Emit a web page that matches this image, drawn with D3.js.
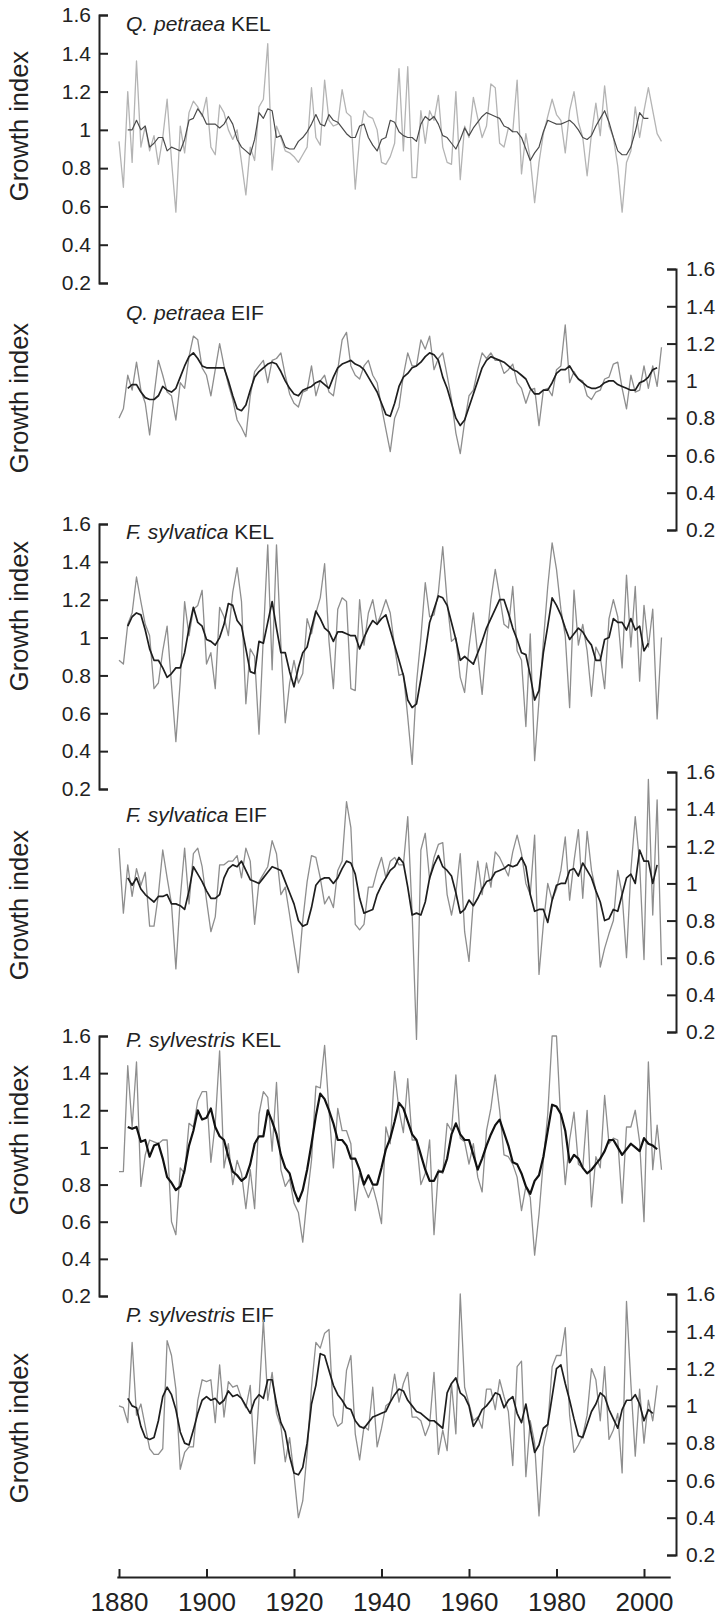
<!DOCTYPE html>
<html>
<head>
<meta charset="utf-8">
<script src="https://cdn.jsdelivr.net/npm/d3@7"></script>
<style>
  body { margin: 0; background: #fff; }
  svg { display: block; font-family: "Liberation Sans", Arial, sans-serif; }
</style>
</head>
<body>
<div id="chart"></div>
<script>
// Ring-width growth index, yearly values (raw) and smoothed curve
const rawStart = 1880;
const smoothStart = 1882;

const yTicks = [0.2, 0.4, 0.6, 0.8, 1, 1.2, 1.4, 1.6];
const xTicks = [1880, 1900, 1920, 1940, 1960, 1980, 2000];

const species = ["Q. petraea", "Q. petraea", "F. sylvatica", "F. sylvatica", "P. sylvestris", "P. sylvestris"];
const sites = ["KEL", "EIF", "KEL", "EIF", "KEL", "EIF"];

const qpKelRaw = [
  0.94, 0.70, 1.20, 0.83, 1.36, 0.91, 1.02, 0.89, 0.97, 0.82,
  0.96, 1.16, 0.84, 0.57, 1.02, 0.88, 1.09, 1.15, 1.12, 1.07,
  1.17, 0.91, 0.87, 1.13, 1.09, 1.00, 0.95, 1.00, 0.83, 0.66,
  0.91, 0.84, 1.12, 1.16, 1.45, 0.79, 1.02, 0.96, 0.89, 0.88,
  0.86, 0.83, 0.87, 0.91, 1.22, 0.96, 0.92, 1.26, 1.05, 1.02,
  1.03, 1.21, 1.09, 1.07, 0.69, 0.96, 1.10, 1.07, 1.06, 1.00,
  0.83, 0.82, 0.86, 0.93, 1.32, 0.89, 1.33, 0.75, 0.75, 1.10,
  0.93, 1.10, 1.05, 1.18, 0.91, 0.83, 0.82, 1.20, 0.74, 1.02,
  0.96, 1.17, 1.06, 0.96, 1.02, 1.24, 1.22, 0.93, 0.91, 1.01,
  0.99, 1.26, 0.77, 0.98, 0.85, 0.62, 0.83, 0.98, 1.07, 1.16,
  1.08, 1.05, 0.88, 1.10, 1.20, 1.04, 0.96, 0.76, 0.98, 1.14,
  0.97, 1.23, 1.02, 0.96, 0.81, 0.57, 0.83, 0.89, 1.12, 0.96,
  1.10, 1.22, 1.10, 0.98, 0.94
];
const qpKelSmooth = [
  1.00, 1.00, 1.05, 1.00, 1.02, 0.91, 0.93, 0.96, 0.96, 0.89,
  0.91, 0.90, 0.89, 0.95, 1.05, 1.06, 1.11, 1.08, 1.03, 1.03,
  1.03, 1.01, 1.03, 1.07, 1.03, 0.95, 0.91, 0.89, 0.87, 0.95,
  1.09, 1.06, 1.11, 1.10, 0.96, 0.97, 0.91, 0.90, 0.90, 0.94,
  0.96, 0.99, 1.03, 1.08, 1.03, 1.02, 1.08, 1.05, 1.04, 1.01,
  0.98, 0.96, 0.96, 1.02, 1.03, 0.96, 0.92, 0.89, 0.95, 0.96,
  1.05, 1.04, 0.99, 0.97, 0.96, 0.96, 0.94, 1.03, 1.07, 1.05,
  1.07, 1.03, 0.97, 0.96, 0.93, 0.90, 0.95, 1.01, 0.97, 1.01,
  1.04, 1.07, 1.09, 1.08, 1.07, 1.06, 1.02, 1.01, 0.99, 0.99,
  0.96, 0.90, 0.84, 0.88, 0.91, 0.99, 1.05, 1.04, 1.03, 1.03,
  1.04, 1.05, 1.03, 1.00, 0.96, 0.95, 0.97, 1.02, 1.06, 1.10,
  1.04, 0.96, 0.89, 0.87, 0.87, 0.91, 0.99, 1.09, 1.06, 1.06
];

const qpEifRaw = [
  0.80, 0.85, 1.03, 0.95, 1.10, 0.95, 0.88, 0.71, 0.92, 1.11,
  1.03, 0.94, 0.92, 0.79, 0.99, 0.96, 1.13, 1.24, 1.22, 1.07,
  1.03, 0.92, 1.06, 1.20, 1.08, 0.98, 0.90, 0.79, 0.75, 0.70,
  0.92, 1.05, 1.08, 1.11, 0.99, 1.11, 1.12, 1.15, 1.03, 0.93,
  0.88, 0.86, 0.94, 0.95, 1.08, 0.92, 1.00, 1.03, 0.94, 0.92,
  1.06, 1.22, 1.26, 1.08, 1.03, 1.01, 1.08, 1.11, 1.03, 0.99,
  0.86, 0.74, 0.62, 0.80, 0.86, 1.03, 1.15, 1.08, 1.08, 1.22,
  1.17, 1.24, 1.06, 1.12, 1.15, 1.03, 0.90, 0.72, 0.61, 0.78,
  0.92, 0.95, 1.06, 1.15, 1.12, 1.15, 1.11, 1.11, 1.04, 1.06,
  1.09, 0.99, 0.96, 0.88, 0.95, 0.96, 0.76, 0.95, 0.96, 0.92,
  1.06, 1.08, 1.30, 0.99, 1.05, 1.01, 1.00, 0.92, 0.90, 0.94,
  0.95, 1.01, 1.02, 1.09, 1.10, 0.96, 0.85, 1.03, 0.94, 0.95,
  1.08, 0.96, 1.08, 0.97, 1.18
];
const qpEifSmooth = [
  0.96, 0.98, 0.98, 0.94, 0.91, 0.90, 0.90, 0.92,
  0.97, 0.95, 0.94, 0.96, 1.02, 1.08, 1.13, 1.15, 1.12, 1.08,
  1.07, 1.07, 1.07, 1.07, 1.07, 1.00, 0.92, 0.85, 0.84, 0.87,
  0.95, 1.02, 1.05, 1.07, 1.09, 1.10, 1.09, 1.05, 1.00, 0.96,
  0.93, 0.92, 0.95, 0.96, 0.97, 0.99, 1.00, 0.98, 0.96, 1.02,
  1.07, 1.09, 1.10, 1.11, 1.09, 1.08, 1.06, 1.02, 0.98, 0.94,
  0.88, 0.82, 0.81, 0.88, 0.97, 1.02, 1.04, 1.07, 1.08, 1.10,
  1.13, 1.15, 1.14, 1.11, 1.02, 0.96, 0.88, 0.80, 0.76, 0.79,
  0.86, 0.93, 1.00, 1.07, 1.11, 1.13, 1.12, 1.11, 1.10, 1.08,
  1.06, 1.05, 1.03, 1.01, 0.96, 0.93, 0.93, 0.95, 0.95, 0.99,
  1.04, 1.06, 1.06, 1.08, 1.04, 1.01, 0.99, 0.97, 0.96, 0.96,
  0.97, 0.99, 1.00, 1.00, 0.98, 0.97, 0.96, 0.95, 0.95, 0.99,
  1.00, 1.02, 1.06, 1.07
];

const fsKelRaw = [
  0.88, 0.86, 1.07, 1.13, 1.32, 1.19, 1.07, 1.01, 0.73, 0.76,
  0.93, 1.06, 0.75, 0.45, 0.77, 1.19, 1.01, 1.15, 1.17, 1.25,
  0.86, 0.92, 0.73, 1.16, 1.11, 1.01, 1.24, 1.37, 1.19, 0.65,
  0.94, 0.90, 0.49, 1.01, 1.49, 0.83, 1.49, 0.96, 0.55, 0.76,
  0.88, 0.76, 0.81, 1.10, 1.02, 1.13, 1.21, 1.39, 0.98, 0.73,
  1.15, 1.21, 1.19, 0.73, 0.72, 1.20, 0.96, 1.13, 1.20, 1.07,
  1.13, 1.20, 1.13, 0.95, 0.80, 0.81, 0.58, 0.33, 0.76, 1.00,
  1.29, 1.11, 1.12, 1.24, 1.48, 1.19, 0.98, 1.00, 0.79, 0.71,
  0.95, 1.13, 0.91, 0.70, 0.98, 1.20, 1.36, 1.22, 1.07, 1.05,
  1.27, 0.93, 0.88, 0.53, 1.02, 0.35, 0.67, 0.98, 1.27, 1.50,
  1.36, 1.15, 1.01, 0.63, 1.25, 0.96, 1.07, 0.93, 0.69, 0.95,
  0.90, 0.73, 1.10, 1.20, 1.11, 0.84, 1.33, 0.95, 1.27, 0.77,
  1.17, 0.95, 1.15, 0.57, 1.00
];
const fsKelSmooth = [
  1.06, 1.11, 1.13, 1.12, 1.04, 0.94, 0.88, 0.88, 0.84, 0.79,
  0.81, 0.84, 0.84, 0.92, 1.05, 1.16, 1.08, 1.06, 0.99, 0.98,
  0.96, 1.00, 1.07, 1.18, 1.17, 1.09, 1.06, 0.94, 0.82, 0.81,
  0.98, 0.97, 1.08, 1.19, 1.05, 0.92, 0.92, 0.82, 0.74, 0.84,
  0.92, 0.95, 1.05, 1.14, 1.10, 1.05, 1.03, 0.98, 1.03, 1.03,
  1.02, 1.01, 1.01, 0.94, 1.00, 1.05, 1.09, 1.07, 1.10, 1.12,
  1.04, 0.96, 0.88, 0.80, 0.67, 0.63, 0.65, 0.78, 0.92, 1.08,
  1.15, 1.22, 1.21, 1.17, 1.08, 0.99, 0.88, 0.90, 0.88, 0.86,
  0.92, 0.98, 1.05, 1.10, 1.15, 1.20, 1.20, 1.13, 1.05, 0.99,
  0.92, 0.91, 0.80, 0.67, 0.72, 0.92, 1.06, 1.21, 1.17, 1.12,
  1.05, 0.99, 1.02, 1.05, 1.03, 0.99, 0.96, 0.88, 0.88, 0.99,
  1.00, 1.10, 1.08, 1.08, 1.04, 1.10, 1.04, 1.06, 0.93, 0.97
];

const fsEifRaw = [
  1.19, 0.84, 1.10, 0.93, 1.08, 0.99, 1.06, 0.77, 0.77, 0.94,
  1.18, 1.03, 0.89, 0.54, 0.92, 1.19, 0.89, 1.16, 1.19, 1.09,
  0.91, 0.74, 0.82, 1.10, 1.10, 1.12, 1.12, 1.15, 1.03, 1.19,
  1.12, 0.78, 1.01, 1.05, 1.09, 1.23, 1.16, 0.94, 0.98, 0.83,
  0.67, 0.52, 0.80, 1.01, 1.15, 1.14, 1.03, 0.89, 0.93, 0.87,
  1.07, 1.12, 1.44, 1.30, 0.78, 0.75, 0.78, 0.98, 0.98, 1.07,
  1.14, 1.03, 1.12, 1.14, 1.10, 1.10, 1.36, 0.84, 0.16, 1.18,
  1.27, 1.02, 1.14, 1.21, 1.22, 0.94, 0.83, 0.95, 1.16, 0.74,
  0.58, 0.91, 1.12, 0.94, 1.11, 0.98, 1.17, 1.14, 1.09, 1.04,
  1.17, 1.26, 1.16, 1.00, 0.94, 1.26, 0.51, 0.78, 1.00, 0.91,
  0.97, 1.07, 1.25, 0.91, 1.12, 1.29, 0.92, 1.28, 1.07, 0.96,
  0.55, 0.65, 0.73, 0.80, 1.07, 0.94, 0.60, 1.07, 1.36, 1.11,
  0.59, 1.56, 0.83, 1.45, 0.56
];
const fsEifSmooth = [
  1.03, 0.99, 1.03, 0.97, 0.94, 0.92, 0.90, 0.93, 0.93, 0.94,
  0.89, 0.89, 0.88, 0.86, 0.96, 1.09, 1.05, 1.01, 0.96, 0.92,
  0.92, 0.94, 1.03, 1.08, 1.10, 1.09, 1.12, 1.07, 1.02, 1.01,
  1.00, 1.03, 1.06, 1.09, 1.08, 1.07, 1.01, 0.95, 0.89, 0.80,
  0.77, 0.78, 0.87, 0.99, 1.02, 1.03, 1.03, 1.00, 1.03, 1.08,
  1.12, 1.11, 1.05, 0.92, 0.84, 0.85, 0.86, 0.94, 0.99, 1.03,
  1.07, 1.09, 1.14, 1.11, 0.98, 0.83, 0.84, 0.83, 0.90, 1.03,
  1.10, 1.15, 1.09, 1.07, 1.04, 0.95, 0.84, 0.86, 0.91, 0.88,
  0.92, 0.97, 1.01, 1.02, 1.06, 1.07, 1.08, 1.10, 1.09, 1.10,
  1.14, 1.09, 0.94, 0.85, 0.86, 0.86, 0.79, 0.91, 0.99, 1.00,
  1.00, 1.07, 1.08, 1.04, 1.11, 1.07, 1.03, 0.96, 0.90, 0.80,
  0.81, 0.86, 0.85, 0.94, 1.03, 1.05, 1.00, 1.18, 1.12, 1.12,
  1.00, 1.10
];

const psKelRaw = [
  0.87, 0.87, 1.44, 1.11, 1.46, 0.79, 0.96, 1.04, 1.03, 1.02,
  1.04, 1.04, 0.60, 0.53, 0.89, 0.86, 1.13, 1.11, 1.25, 1.30,
  1.30, 0.92, 1.13, 1.52, 0.89, 1.02, 0.80, 0.93, 0.86, 0.67,
  0.88, 0.67, 1.18, 1.30, 1.27, 0.98, 1.35, 0.88, 0.79, 0.83,
  0.70, 0.65, 0.49, 0.73, 0.93, 1.33, 1.32, 1.55, 1.20, 0.89,
  1.21, 1.09, 1.09, 1.02, 0.66, 0.86, 0.79, 0.73, 0.79, 0.70,
  0.59, 1.11, 1.02, 1.41, 1.20, 1.08, 1.37, 1.04, 1.04, 0.80,
  0.86, 1.04, 0.53, 0.88, 0.86, 1.13, 1.09, 1.39, 1.05, 1.03,
  0.91, 1.02, 0.84, 0.76, 1.09, 1.21, 1.39, 1.20, 0.96, 0.95,
  0.91, 0.84, 0.66, 0.79, 0.73, 0.42, 0.64, 0.93, 1.18, 1.60,
  1.60, 1.13, 0.80, 1.04, 1.19, 0.91, 0.89, 1.20, 0.68, 0.95,
  0.89, 1.28, 1.02, 1.05, 1.04, 0.70, 1.11, 1.11, 1.20, 1.03,
  0.60, 1.46, 0.88, 1.12, 0.88
];
const psKelSmooth = [
  1.11, 1.10, 1.11, 1.03, 1.04, 0.95, 1.01, 1.02, 0.94, 0.84,
  0.81, 0.77, 0.79, 0.88, 1.01, 1.09, 1.20, 1.15, 1.16, 1.21,
  1.11, 1.06, 1.04, 0.95, 0.87, 0.85, 0.82, 0.84, 0.91, 1.02,
  1.06, 1.06, 1.20, 1.14, 1.07, 0.96, 0.89, 0.86, 0.77, 0.71,
  0.77, 0.88, 1.02, 1.17, 1.29, 1.26, 1.20, 1.13, 1.04, 1.04,
  1.01, 0.94, 0.94, 0.88, 0.80, 0.85, 0.80, 0.80, 0.89, 0.99,
  1.05, 1.14, 1.24, 1.21, 1.14, 1.07, 1.04, 0.96, 0.88, 0.82,
  0.82, 0.87, 0.87, 0.94, 1.07, 1.13, 1.07, 1.04, 1.04, 0.96,
  0.88, 0.94, 1.01, 1.07, 1.12, 1.15, 1.08, 1.01, 0.92, 0.91,
  0.86, 0.79, 0.75, 0.82, 0.85, 0.95, 1.09, 1.23, 1.22, 1.18,
  1.09, 0.92, 0.96, 0.94, 0.89, 0.86, 0.88, 0.91, 0.94, 0.98,
  1.04, 1.04, 1.00, 0.96, 0.99, 1.02, 1.00, 0.98, 1.05, 1.02,
  1.01, 0.99
];

const psEifRaw = [
  1.00, 0.99, 0.91, 1.34, 0.95, 1.01, 0.89, 0.77, 0.74, 0.74,
  0.77, 1.35, 1.27, 1.09, 0.66, 0.75, 0.78, 0.78, 1.03, 1.14,
  1.13, 1.14, 0.91, 1.22, 0.94, 1.13, 1.10, 1.11, 1.04, 0.99,
  1.11, 0.69, 1.04, 1.46, 1.03, 1.18, 0.96, 0.89, 0.70, 0.83,
  0.63, 0.40, 0.49, 0.75, 1.10, 1.34, 1.31, 1.39, 1.41, 0.95,
  0.89, 0.91, 1.19, 1.27, 0.85, 0.71, 0.89, 0.87, 1.10, 0.78,
  0.88, 1.00, 1.02, 1.17, 1.02, 1.12, 1.18, 0.94, 0.94, 0.92,
  0.84, 0.90, 1.18, 0.74, 0.87, 0.76, 1.12, 0.85, 1.60, 1.10,
  1.01, 0.92, 0.94, 0.88, 1.09, 1.09, 0.98, 1.14, 1.05, 0.97,
  0.68, 1.21, 1.24, 0.62, 0.92, 0.80, 0.41, 0.78, 0.89, 1.21,
  1.27, 1.27, 1.42, 0.95, 0.75, 0.79, 0.84, 0.95, 1.20, 1.14,
  0.92, 1.21, 0.82, 0.87, 0.96, 0.64, 1.56, 1.12, 0.73, 1.09,
  0.80, 1.03, 0.92, 1.11
];
const psEifSmooth = [
  1.04, 1.00, 0.99, 0.89, 0.83, 0.82, 0.83, 0.92, 1.05, 1.10,
  1.06, 0.98, 0.86, 0.80, 0.79, 0.87, 0.96, 1.03, 1.05, 1.03,
  1.04, 1.01, 1.03, 1.08, 1.05, 1.06, 1.04, 1.00, 0.96, 1.03,
  1.06, 1.04, 1.14, 1.14, 1.01, 0.91, 0.86, 0.73, 0.64, 0.63,
  0.67, 0.80, 1.01, 1.11, 1.28, 1.27, 1.19, 1.11, 1.06, 1.03,
  0.99, 0.98, 0.92, 0.89, 0.88, 0.91, 0.94, 0.95, 0.96, 0.97,
  1.02, 1.06, 1.09, 1.08, 1.03, 1.00, 0.97, 0.96, 0.94, 0.92,
  0.92, 0.90, 0.88, 1.07, 1.12, 1.15, 1.07, 1.05, 1.00, 0.89,
  0.93, 0.98, 1.00, 1.03, 1.07, 1.06, 0.99, 1.03, 1.05, 0.96,
  0.91, 1.01, 0.88, 0.75, 0.79, 0.88, 0.90, 1.05, 1.20, 1.22,
  1.12, 1.03, 0.93, 0.84, 0.83, 0.90, 0.97, 1.01, 1.07, 1.05,
  0.98, 0.93, 0.88, 0.98, 1.03, 1.03, 1.06, 1.01, 0.92, 0.98,
  0.96
];

// layout (pixels) -----------------------------------------------------
const width = 723;
const height = 1617;
const leftAxisX = 99;
const rightAxisX = 676;
const x1880 = 119;
const x2000 = 644;

const panels = [
  { raw: qpKelRaw, smooth: qpKelSmooth, top: 15,   bottom: 283,  side: "left",
    rawColor: "#b4b4b4", smoothColor: "#4a4a4a", smoothWidth: 1.2, titleY: 31,   labelY: 126 },
  { raw: qpEifRaw, smooth: qpEifSmooth, top: 269,  bottom: 530,  side: "right",
    rawColor: "#8e8e8e", smoothColor: "#1e1e1e", smoothWidth: 1.7, titleY: 320,  labelY: 398 },
  { raw: fsKelRaw, smooth: fsKelSmooth, top: 524,  bottom: 789,  side: "left",
    rawColor: "#8e8e8e", smoothColor: "#1e1e1e", smoothWidth: 1.7, titleY: 539,  labelY: 616 },
  { raw: fsEifRaw, smooth: fsEifSmooth, top: 772,  bottom: 1032, side: "right",
    rawColor: "#8e8e8e", smoothColor: "#1e1e1e", smoothWidth: 1.7, titleY: 822,  labelY: 905 },
  { raw: psKelRaw, smooth: psKelSmooth, top: 1036, bottom: 1296, side: "left",
    rawColor: "#8e8e8e", smoothColor: "#111",    smoothWidth: 2.2, titleY: 1047, labelY: 1140 },
  { raw: psEifRaw, smooth: psEifSmooth, top: 1294, bottom: 1555, side: "right",
    rawColor: "#8e8e8e", smoothColor: "#1e1e1e", smoothWidth: 1.7, titleY: 1322, labelY: 1428 }
];

const xScale = d3.scaleLinear().domain([1880, 2000]).range([x1880, x2000]);

const svg = d3.select("#chart").append("svg")
  .attr("width", width)
  .attr("height", height);

panels.forEach((p, k) => {
  const y = d3.scaleLinear().domain([0.2, 1.6]).range([p.bottom, p.top]);
  const g = svg.append("g").attr("class", "panel");

  // Y axis: bracket with inward ticks
  const axis = (p.side === "left" ? d3.axisLeft(y) : d3.axisRight(y))
    .tickValues(yTicks)
    .tickFormat(d => String(+d.toFixed(1)))
    .tickSizeInner(-9)
    .tickSizeOuter(-9)
    .tickPadding(p.side === "left" ? 8 : 10);

  const ax = g.append("g")
    .attr("transform", `translate(${p.side === "left" ? leftAxisX : rightAxisX},0)`)
    .call(axis);
  ax.attr("font-size", 21).attr("font-family", null);
  ax.selectAll("path, line").attr("stroke", "#222").attr("stroke-width", 2);
  ax.selectAll("text").attr("fill", "#222");

  // Growth index label
  g.append("text")
    .attr("transform", `translate(19,${p.labelY}) rotate(-90)`)
    .attr("text-anchor", "middle")
    .attr("dy", "0.36em")
    .attr("font-size", 25.5)
    .attr("fill", "#222")
    .text("Growth index");

  // Title
  const t = g.append("text")
    .attr("x", 126)
    .attr("y", p.titleY)
    .attr("font-size", 21)
    .attr("fill", "#222");
  t.append("tspan").attr("font-style", "italic").text(species[k]);
  t.append("tspan").text(" " + sites[k]);

  const rawLine = d3.line()
    .x((d, i) => xScale(rawStart + i))
    .y(d => y(d));
  const smoothLine = d3.line()
    .x((d, i) => xScale(smoothStart + i))
    .y(d => y(d));

  g.append("path")
    .datum(p.raw)
    .attr("fill", "none")
    .attr("stroke", p.rawColor)
    .attr("stroke-width", 1.3)
    .attr("stroke-linejoin", "round")
    .attr("d", rawLine);

  g.append("path")
    .datum(p.smooth)
    .attr("fill", "none")
    .attr("stroke", p.smoothColor)
    .attr("stroke-width", p.smoothWidth)
    .attr("stroke-linejoin", "round")
    .attr("d", smoothLine);
});

// Shared x axis (ticks point up)
const xAxisScale = d3.scaleLinear()
  .domain([1879.5, 2006])
  .range([xScale(1879.5), xScale(2006)]);

const xAx = svg.append("g")
  .attr("transform", "translate(0,1577)")
  .call(d3.axisBottom(xAxisScale)
    .tickValues(xTicks)
    .tickFormat(d3.format("d"))
    .tickSizeInner(-8)
    .tickSizeOuter(0)
    .tickPadding(16));
xAx.attr("font-size", 26).attr("font-family", null);
xAx.selectAll("path, line").attr("stroke", "#222").attr("stroke-width", 2);
xAx.selectAll("text").attr("fill", "#222");
</script>
</body>
</html>
